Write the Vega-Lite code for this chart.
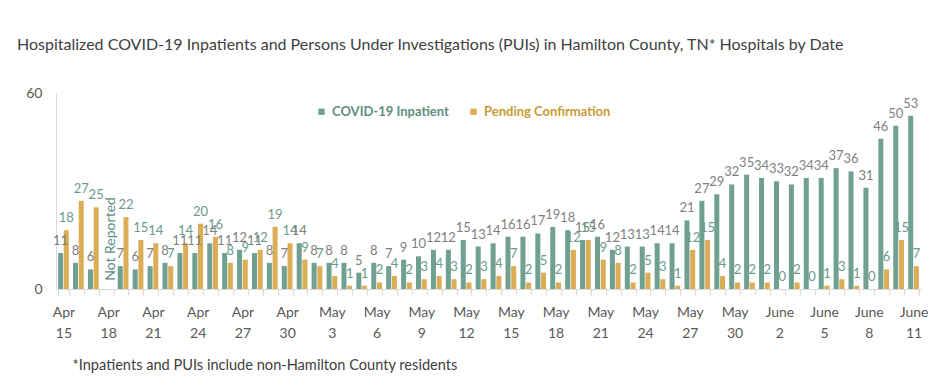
{
  "$schema": "https://vega.github.io/schema/vega-lite/v6.json",
  "width": 865,
  "height": 196,
  "autosize": "none",
  "padding": {"top": 93, "left": 56, "right": 22, "bottom": 92},
  "background": "white",
  "title": {
    "text": "Hospitalized COVID-19 Inpatients and Persons Under Investigations (PUIs) in Hamilton County, TN* Hospitals by Date",
    "anchor": "start",
    "frame": "group",
    "dx": -39,
    "offset": 20,
    "baseline": "alphabetic",
    "font": "Lato",
    "fontSize": 16,
    "fontWeight": "normal",
    "color": "#404040"
  },
  "data": {
    "values": [
      {"date": "Apr 15", "COVID-19 Inpatient": 11, "Pending Confirmation": 18},
      {"date": "Apr 16", "COVID-19 Inpatient": 8, "Pending Confirmation": 27},
      {"date": "Apr 17", "COVID-19 Inpatient": 6, "Pending Confirmation": 25},
      {"date": "Apr 18", "COVID-19 Inpatient": null, "Pending Confirmation": null, "note": "Not Reported"},
      {"date": "Apr 19", "COVID-19 Inpatient": 7, "Pending Confirmation": 22},
      {"date": "Apr 20", "COVID-19 Inpatient": 6, "Pending Confirmation": 15},
      {"date": "Apr 21", "COVID-19 Inpatient": 7, "Pending Confirmation": 14},
      {"date": "Apr 22", "COVID-19 Inpatient": 8, "Pending Confirmation": 7},
      {"date": "Apr 23", "COVID-19 Inpatient": 11, "Pending Confirmation": 14},
      {"date": "Apr 24", "COVID-19 Inpatient": 11, "Pending Confirmation": 20},
      {"date": "Apr 25", "COVID-19 Inpatient": 14, "Pending Confirmation": 16},
      {"date": "Apr 26", "COVID-19 Inpatient": 11, "Pending Confirmation": 8},
      {"date": "Apr 27", "COVID-19 Inpatient": 12, "Pending Confirmation": 9},
      {"date": "Apr 28", "COVID-19 Inpatient": 11, "Pending Confirmation": 12},
      {"date": "Apr 29", "COVID-19 Inpatient": 8, "Pending Confirmation": 19},
      {"date": "Apr 30", "COVID-19 Inpatient": 7, "Pending Confirmation": 14},
      {"date": "May 1", "COVID-19 Inpatient": 14, "Pending Confirmation": 9},
      {"date": "May 2", "COVID-19 Inpatient": 8, "Pending Confirmation": 7},
      {"date": "May 3", "COVID-19 Inpatient": 8, "Pending Confirmation": 4},
      {"date": "May 4", "COVID-19 Inpatient": 8, "Pending Confirmation": 1},
      {"date": "May 5", "COVID-19 Inpatient": 5, "Pending Confirmation": 1},
      {"date": "May 6", "COVID-19 Inpatient": 8, "Pending Confirmation": 2},
      {"date": "May 7", "COVID-19 Inpatient": 7, "Pending Confirmation": 4},
      {"date": "May 8", "COVID-19 Inpatient": 9, "Pending Confirmation": 2},
      {"date": "May 9", "COVID-19 Inpatient": 10, "Pending Confirmation": 3},
      {"date": "May 10", "COVID-19 Inpatient": 12, "Pending Confirmation": 4},
      {"date": "May 11", "COVID-19 Inpatient": 12, "Pending Confirmation": 3},
      {"date": "May 12", "COVID-19 Inpatient": 15, "Pending Confirmation": 2},
      {"date": "May 13", "COVID-19 Inpatient": 13, "Pending Confirmation": 3},
      {"date": "May 14", "COVID-19 Inpatient": 14, "Pending Confirmation": 4},
      {"date": "May 15", "COVID-19 Inpatient": 16, "Pending Confirmation": 7},
      {"date": "May 16", "COVID-19 Inpatient": 16, "Pending Confirmation": 2},
      {"date": "May 17", "COVID-19 Inpatient": 17, "Pending Confirmation": 5},
      {"date": "May 18", "COVID-19 Inpatient": 19, "Pending Confirmation": 2},
      {"date": "May 19", "COVID-19 Inpatient": 18, "Pending Confirmation": 12},
      {"date": "May 20", "COVID-19 Inpatient": 15, "Pending Confirmation": 15},
      {"date": "May 21", "COVID-19 Inpatient": 16, "Pending Confirmation": 9},
      {"date": "May 22", "COVID-19 Inpatient": 12, "Pending Confirmation": 8},
      {"date": "May 23", "COVID-19 Inpatient": 13, "Pending Confirmation": 2},
      {"date": "May 24", "COVID-19 Inpatient": 13, "Pending Confirmation": 5},
      {"date": "May 25", "COVID-19 Inpatient": 14, "Pending Confirmation": 3},
      {"date": "May 26", "COVID-19 Inpatient": 14, "Pending Confirmation": 1},
      {"date": "May 27", "COVID-19 Inpatient": 21, "Pending Confirmation": 12},
      {"date": "May 28", "COVID-19 Inpatient": 27, "Pending Confirmation": 15},
      {"date": "May 29", "COVID-19 Inpatient": 29, "Pending Confirmation": 4},
      {"date": "May 30", "COVID-19 Inpatient": 32, "Pending Confirmation": 2},
      {"date": "May 31", "COVID-19 Inpatient": 35, "Pending Confirmation": 2},
      {"date": "June 1", "COVID-19 Inpatient": 34, "Pending Confirmation": 2},
      {"date": "June 2", "COVID-19 Inpatient": 33, "Pending Confirmation": 0},
      {"date": "June 3", "COVID-19 Inpatient": 32, "Pending Confirmation": 2},
      {"date": "June 4", "COVID-19 Inpatient": 34, "Pending Confirmation": 0},
      {"date": "June 5", "COVID-19 Inpatient": 34, "Pending Confirmation": 1},
      {"date": "June 6", "COVID-19 Inpatient": 37, "Pending Confirmation": 3},
      {"date": "June 7", "COVID-19 Inpatient": 36, "Pending Confirmation": 1},
      {"date": "June 8", "COVID-19 Inpatient": 31, "Pending Confirmation": 0},
      {"date": "June 9", "COVID-19 Inpatient": 46, "Pending Confirmation": 6},
      {"date": "June 10", "COVID-19 Inpatient": 50, "Pending Confirmation": 15},
      {"date": "June 11", "COVID-19 Inpatient": 53, "Pending Confirmation": 7}
    ]
  },
  "transform": [
    {"fold": ["COVID-19 Inpatient", "Pending Confirmation"], "as": ["series", "value"]}
  ],
  "encoding": {
    "x": {
      "field": "date",
      "type": "nominal",
      "sort": ["Apr 15","Apr 16","Apr 17","Apr 18","Apr 19","Apr 20","Apr 21","Apr 22","Apr 23","Apr 24","Apr 25","Apr 26","Apr 27","Apr 28","Apr 29","Apr 30","May 1","May 2","May 3","May 4","May 5","May 6","May 7","May 8","May 9","May 10","May 11","May 12","May 13","May 14","May 15","May 16","May 17","May 18","May 19","May 20","May 21","May 22","May 23","May 24","May 25","May 26","May 27","May 28","May 29","May 30","May 31","June 1","June 2","June 3","June 4","June 5","June 6","June 7","June 8","June 9","June 10","June 11"],
      "scale": {"paddingInner": 0.28, "paddingOuter": 0.14},
      "axis": {
        "title": "*Inpatients and PUIs include non-Hamilton County residents",
        "titleAnchor": "start",
        "titleAlign": "left",
        "titleBaseline": "middle",
        "titleX": 16,
        "titleY": 76,
        "titleFont": "Lato",
        "titleFontSize": 14.6,
        "titleFontWeight": "normal",
        "titleColor": "#404040",
        "labelAngle": 0,
        "labelFont": "Lato",
        "labelFontSize": 14,
        "labelColor": "#595959",
        "labelPadding": 10,
        "labelLineHeight": 21,
        "labelBaseline": "top",
        "labelExpr": "indexof(['Apr 15','Apr 18','Apr 21','Apr 24','Apr 27','Apr 30','May 3','May 6','May 9','May 12','May 15','May 18','May 21','May 24','May 27','May 30','June 2','June 5','June 8','June 11'], datum.value) >= 0 ? split(datum.value, ' ') : ''",
        "tickBand": "extent",
        "tickSize": 6,
        "tickColor": "#d9d9d9",
        "domainColor": "#d9d9d9",
        "labelOverlap": false
      }
    }
  },
  "layer": [
    {
      "mark": {"type": "bar"},
      "encoding": {
        "y": {
          "field": "value",
          "type": "quantitative",
          "scale": {"domain": [0, 60]},
          "axis": {
            "title": null,
            "values": [0, 60],
            "grid": false,
            "ticks": false,
            "domainColor": "#d9d9d9",
            "labelFont": "Lato",
            "labelFontSize": 14,
            "labelColor": "#595959",
            "labelPadding": 14
          }
        },
        "xOffset": {
          "field": "series",
          "type": "nominal",
          "sort": ["COVID-19 Inpatient", "Pending Confirmation"],
          "scale": {"paddingInner": 0.12}
        },
        "color": {
          "field": "series",
          "type": "nominal",
          "scale": {
            "domain": ["COVID-19 Inpatient", "Pending Confirmation"],
            "range": ["#70a091", "#dbad55"]
          },
          "legend": {
            "title": null,
            "orient": "none",
            "direction": "horizontal",
            "legendX": 259,
            "legendY": 12,
            "symbolType": "square",
            "symbolSize": 40,
            "symbolStrokeWidth": 0,
            "labelFont": "Lato",
            "labelFontSize": 13,
            "labelFontWeight": "bold",
            "columnPadding": 18,
            "labelOffset": 4,
            "encode": {
              "labels": {
                "update": {
                  "fill": {"signal": "datum.value === 'COVID-19 Inpatient' ? '#5e8e7f' : '#c99a35'"}
                }
              }
            }
          }
        }
      }
    },
    {
      "mark": {
        "type": "text",
        "baseline": "alphabetic",
        "dy": -8,
        "font": "Lato",
        "fontSize": 13
      },
      "encoding": {
        "y": {"field": "value", "type": "quantitative"},
        "xOffset": {
          "field": "series",
          "type": "nominal",
          "sort": ["COVID-19 Inpatient", "Pending Confirmation"]
        },
        "text": {"field": "value", "type": "quantitative"},
        "color": {
          "condition": {"test": "datum.series === 'COVID-19 Inpatient'", "value": "#7f7f7f"},
          "value": "#6a9a8b"
        }
      }
    },
    {
      "transform": [
        {"filter": "isValid(datum.note) && datum.series === 'COVID-19 Inpatient'"}
      ],
      "mark": {
        "type": "text",
        "angle": 270,
        "align": "left",
        "baseline": "middle",
        "dy": 3,
        "font": "Lato",
        "fontSize": 14,
        "color": "#5e8e7f"
      },
      "encoding": {
        "y": {"datum": 2.5},
        "text": {"field": "note"}
      }
    }
  ],
  "config": {
    "view": {"stroke": null}
  }
}
